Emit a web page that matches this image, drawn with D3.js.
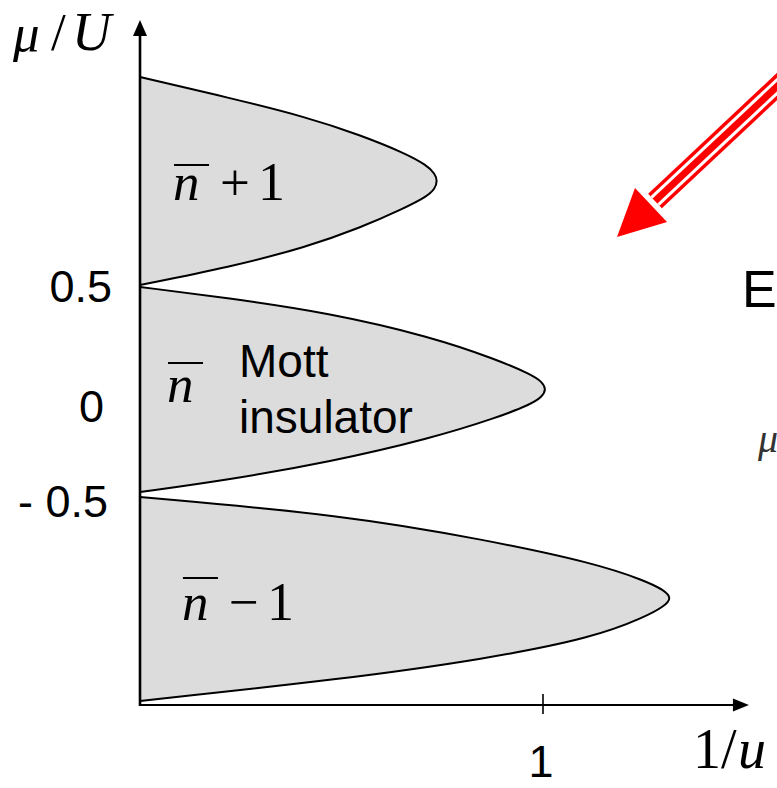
<!DOCTYPE html>
<html><head><meta charset="utf-8">
<script src="https://cdn.jsdelivr.net/npm/d3@7"></script>
<style>
html,body{margin:0;padding:0;background:#fff;}
svg{display:block;}
</style>
</head><body>
<svg id="chart" width="777" height="788"></svg>
<script>
// ---- data ----
// lobe boundaries: [1/u, mu/U], from the axis top, round the tip, back to the axis bottom
const lobeTop = [[0,1.51],[0.223,1.409],[0.413,1.317],[0.546,1.231],[0.657,1.144],[0.712,1.085],[0.732,1.045],[0.738,1.010],[0.732,0.972],[0.712,0.935],[0.657,0.880],[0.546,0.784],[0.413,0.692],[0.223,0.596],[0,0.510]];
const lobeMid = [[0,0.50],[0.223,0.446],[0.471,0.375],[0.720,0.262],[0.886,0.151],[0.970,0.080],[0.998,0.044],[1.008,0.008],[0.998,-0.028],[0.970,-0.064],[0.886,-0.128],[0.720,-0.229],[0.471,-0.341],[0.223,-0.426],[0,-0.486]];
const lobeBot = [[0,-0.510],[0.506,-0.596],[0.859,-0.716],[1.127,-0.827],[1.255,-0.913],[1.300,-0.957],[1.320,-0.996],[1.300,-1.036],[1.255,-1.085],[1.127,-1.185],[0.859,-1.288],[0.506,-1.385],[0,-1.490]];
const yTickValues = [0.5, 0, -0.5];
const yTickLabels = ["0.5", "0", "- 0.5"];
const xTickValues = [1];
const xTickLabels = ["1"];
const lobeLabels = ["+ 1", "", "\u2212 1"];
const xAxisEnd = 1.511;
const yAxisMin = -1.51, yAxisMax = 1.784;

// ---- scales ----
const x = d3.scaleLinear().domain([0, 1]).range([140, 543]);
const y = d3.scaleLinear().domain([-0.5, 0.5]).range([495, 287]);

const svg = d3.select("#chart");
svg.append("rect").attr("width", 777).attr("height", 788).attr("fill", "#fff");

const serif = "'Liberation Serif','Times New Roman',Times,serif";
const sans = "'Liberation Sans',Arial,Helvetica,sans-serif";

// ---- lobes ----
const line = d3.line().x(d => x(d[0])).y(d => y(d[1])).curve(d3.curveBasis);
[lobeTop, lobeMid, lobeBot].forEach(L => {
  svg.append("path")
    .attr("d", line(L) + "Z")
    .attr("fill", "#dcdcdc")
    .attr("stroke", "#000")
    .attr("stroke-width", 2)
    .attr("stroke-linejoin", "round");
});

// ---- axes ----
const x0 = x(0), yBase = y(yAxisMin);
svg.append("line").attr("x1", x0).attr("x2", x0).attr("y1", yBase + 1).attr("y2", y(yAxisMax) + 12)
  .attr("stroke", "#000").attr("stroke-width", 2.6);
svg.append("path")
  .attr("d", `M${x0},${y(yAxisMax)} L${x0 - 7},${y(yAxisMax) + 16} L${x0 + 7},${y(yAxisMax) + 16} Z`)
  .attr("fill", "#000");
svg.append("line").attr("x1", x0).attr("x2", x(xAxisEnd) - 12).attr("y1", yBase).attr("y2", yBase)
  .attr("stroke", "#000").attr("stroke-width", 2);
svg.append("path")
  .attr("d", `M${x(xAxisEnd)},${yBase} L${x(xAxisEnd) - 16},${yBase - 6.5} L${x(xAxisEnd) - 16},${yBase + 6.5} Z`)
  .attr("fill", "#000");

// x ticks
xTickValues.forEach((v, i) => {
  svg.append("line").attr("x1", x(v)).attr("x2", x(v)).attr("y1", yBase - 11).attr("y2", yBase + 9)
    .attr("stroke", "#000").attr("stroke-width", 1.6);
  svg.append("text").attr("x", x(v) - 2).attr("y", yBase + 72)
    .attr("text-anchor", "middle").attr("font-family", sans).attr("font-size", 45)
    .attr("fill", "#000").text(xTickLabels[i]);
});

// y tick labels
const yLabelNudge = {"0.5": [112, 15], "0": [104, 31], "- 0.5": [108, 22]};
yTickValues.forEach((v, i) => {
  const n = yLabelNudge[yTickLabels[i]];
  svg.append("text").attr("x", n[0]).attr("y", y(v) + n[1])
    .attr("text-anchor", "end").attr("font-family", sans).attr("font-size", 45)
    .attr("fill", "#000").text(yTickLabels[i]);
});

// axis titles
function txt(px, py, s, size, italic) {
  return svg.append("text").attr("x", px).attr("y", py).attr("font-family", serif)
    .attr("font-size", size).attr("font-style", italic ? "italic" : "normal").attr("fill", "#000").text(s);
}
txt(13, 51, "\u03bc", 53, true);
txt(51, 50, "/", 53, false);
txt(72, 50, "U", 54, true);

txt(693, 768, "1/", 56, false);
txt(738, 768, "u", 56, true);

// ---- lobe labels (n-bar) ----
function nbar(px, py, rest, barGap) {
  txt(px, py, "n", 53, true);
  if (rest) {
    txt(px + 47, py, rest[0], 53, false);
    txt(px + 85, py, rest.slice(2), 54, false);
  }
  svg.append("line").attr("x1", px + 1).attr("x2", px + 36).attr("y1", py - barGap).attr("y2", py - barGap)
    .attr("stroke", "#000").attr("stroke-width", 2);
}
nbar(x(0.082), y(1.0) + 17, lobeLabels[0], 35);
nbar(x(0.067), y(0) + 11, null, 39);
nbar(x(0.104), y(-1.0) + 21, lobeLabels[2], 42);

svg.append("text").attr("x", 239).attr("y", 377).attr("font-family", sans).attr("font-size", 46)
  .attr("fill", "#000").text("Mott");
svg.append("text").attr("x", 239).attr("y", 433).attr("font-family", sans).attr("font-size", 46)
  .attr("fill", "#000").text("insulator");

// ---- annotations on the right ----
svg.append("text").attr("x", 742).attr("y", 307).attr("font-family", sans).attr("font-size", 52)
  .attr("fill", "#000").text("E");
svg.append("text").attr("x", 758).attr("y", 452).attr("font-family", serif).attr("font-size", 40)
  .attr("font-style", "italic").attr("fill", "#333").text("\u03bc");

// red arrow (triple line shaft + head)
const tip = [617, 237], base = [651, 205], start = [800, 65];
const shaft = `M${start[0]},${start[1]} L${base[0] + 4},${base[1] - 4}`;
svg.append("path").attr("d", shaft).attr("stroke", "#ff0000").attr("stroke-width", 20).attr("fill", "none");
svg.append("path").attr("d", shaft).attr("stroke", "#fff").attr("stroke-width", 13).attr("fill", "none");
svg.append("path").attr("d", shaft).attr("stroke", "#ff0000").attr("stroke-width", 7).attr("fill", "none");
svg.append("path").attr("d", `M${tip[0]},${tip[1]} L635,188 L667,222 Z`).attr("fill", "#ff0000");
</script>
</body></html>
